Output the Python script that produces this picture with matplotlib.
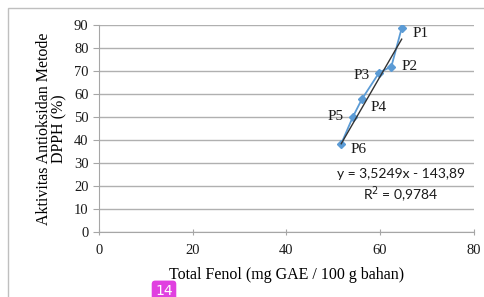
import matplotlib.pyplot as plt
from matplotlib.patches import Rectangle

# data
labels = ["P1", "P2", "P3", "P4", "P5", "P6"]
total_fenol = [64.6, 62.4, 59.8, 56.1, 54.2, 51.7]
aktivitas = [88.6, 71.9, 69.3, 57.7, 50.1, 38.3]
slope = 3.5249
intercept = -143.89
equation = "y = 3,5249x - 143,89\nR$^2$ = 0,9784"

label_offsets = {
    "P1": (8, -4, "left"),
    "P2": (7, 0, "left"),
    "P3": (-7, -2, "right"),
    "P4": (6, -6, "left"),
    "P5": (-7, 0, "right"),
    "P6": (7, -4, "left"),
}

serif = "Liberation Serif"
fig = plt.figure(figsize=(4.85, 2.97), dpi=100)
ax = fig.add_axes([0.204, 0.219, 0.773, 0.697])

# outer chart border (right side is cut off in the reference)
fig.patches.append(Rectangle((8 / 485, -0.1), 1.2, 1.1 - 8 / 297, transform=fig.transFigure,
                             fill=False, edgecolor="#bfbfbf", linewidth=1.0))

ax.plot(total_fenol, aktivitas, color="#5b9bd5", marker="D", markersize=4.5, linewidth=1.3, zorder=3)
xs = [min(total_fenol), max(total_fenol)]
ax.plot(xs, [slope * x + intercept for x in xs], color="#333333", linewidth=1.0, zorder=4)

for name, x, y in zip(labels, total_fenol, aktivitas):
    dx, dy, ha = label_offsets[name]
    ax.annotate(name, (x, y), xytext=(dx, dy), textcoords="offset points",
                ha=ha, va="center", fontsize=11, family=serif, color="#1a1a1a")

ax.text(64.5, 19.8, equation, ha="center", va="center",
        fontsize=10, family="Lato", color="#1a1a1a", linespacing=1.3)

ax.set_xlim(0, 80)
ax.set_ylim(0, 90)
ax.set_xticks(range(0, 81, 20))
ax.set_yticks(range(0, 91, 10))
ax.grid(axis="y", color="#b0b0b0", linewidth=1.0)
ax.set_axisbelow(True)
for s in ["top", "right"]:
    ax.spines[s].set_visible(False)
for s in ["left", "bottom"]:
    ax.spines[s].set_color("#a6a6a6")
ax.tick_params(axis="both", colors="#a6a6a6", length=4, labelsize=10.5, labelcolor="#1a1a1a")
ax.tick_params(axis="x", direction="inout", pad=7)
for t in ax.get_xticklabels() + ax.get_yticklabels():
    t.set_family(serif)

ax.set_xlabel("Total Fenol (mg GAE / 100 g bahan)", family=serif, fontsize=11.5, labelpad=7)
ax.set_ylabel("Aktivitas Antioksidan Metode\nDPPH (%)", family=serif, fontsize=11.5, labelpad=5,
              linespacing=0.95)

fig.text(164 / 485, 0.02, "14", ha="center", va="center", color="white", fontsize=10,
         family="DejaVu Sans",
         bbox=dict(boxstyle="round,pad=0.25", facecolor="#e040e0", edgecolor="none"))

fig.savefig("out.png", dpi=100)
